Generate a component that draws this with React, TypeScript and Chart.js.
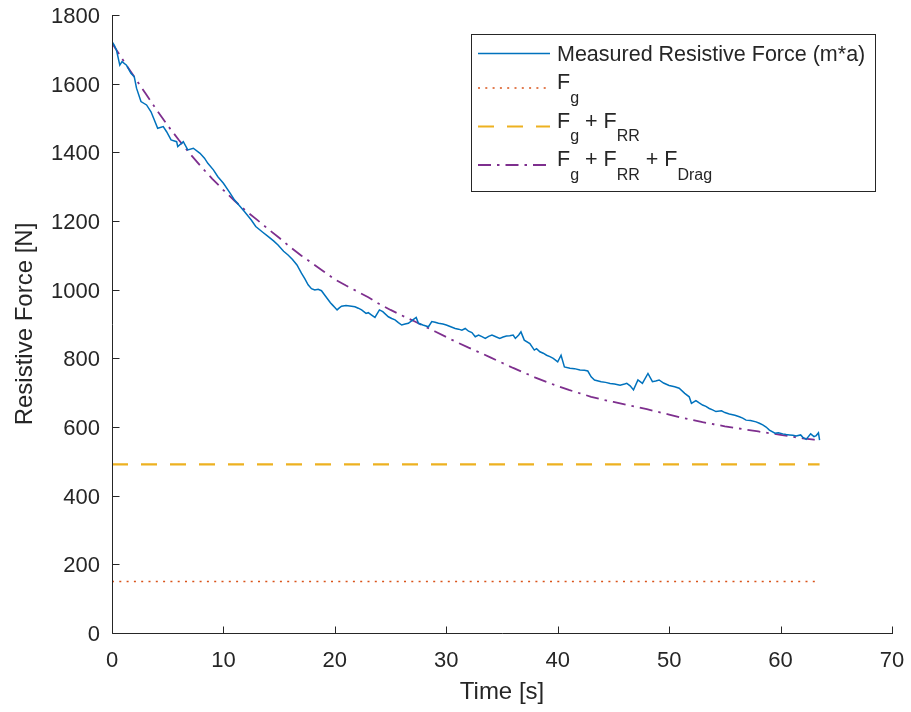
import React, { useEffect, useRef } from 'react';
import { Chart, registerables } from 'chart.js';

Chart.register(...registerables);

// ---------- data ----------
const timeMeasured = [
  0, 0.2, 0.4, 0.7, 0.9, 1.3, 1.7, 2.0, 2.2, 2.6,
  3.1, 3.5, 3.8, 4.1, 4.6, 4.9, 5.3, 5.8, 5.9, 6.4,
  6.8, 7.3, 7.9, 8.3, 8.6, 9.1, 9.5, 10.0, 10.6, 11.0,
  11.5, 11.9, 12.5, 12.9, 13.5, 14.0, 14.5, 14.9, 15.4, 15.8,
  16.2, 16.6, 17.0, 17.3, 17.6, 17.9, 18.2, 18.5, 18.8, 19.0,
  19.3, 19.6, 19.8, 20.0, 20.2, 20.4, 20.6, 21.0, 21.5, 21.8,
  22.1, 22.4, 22.8, 23.0, 23.3, 23.6, 23.8, 24.0, 24.3, 24.8,
  25.1, 25.4, 25.7, 26.0, 26.3, 26.6, 27.0, 27.3, 27.5, 27.9,
  28.4, 28.7, 29.0, 29.3, 29.7, 30.0, 30.4, 30.8, 31.1, 31.4,
  31.7, 32.0, 32.3, 32.6, 32.9, 33.2, 33.5, 33.8, 34.1, 34.5,
  34.8, 35.1, 35.4, 35.7, 36.0, 36.2, 36.5, 36.7, 37.0, 37.5,
  37.9, 38.1, 38.4, 38.7, 39.0, 39.3, 39.6, 40.0, 40.3, 40.6,
  41.1, 41.5, 42.0, 42.4, 42.7, 43.0, 43.3, 43.9, 44.3, 44.7,
  45.1, 45.6, 46.0, 46.2, 46.5, 46.8, 47.2, 47.6, 48.1, 48.5,
  48.8, 49.1, 49.5, 50.0, 50.5, 50.9, 51.4, 51.8, 52.0, 52.4,
  52.7, 53.0, 53.3, 53.6, 53.9, 54.2, 54.7, 55.0, 55.4, 55.9,
  56.3, 56.6, 56.9, 57.3, 57.8, 58.1, 58.4, 58.7, 59.0, 59.5,
  59.8, 60.2, 60.5, 60.8, 61.1, 61.4, 61.8, 62.0, 62.3, 62.7,
  63.0, 63.2, 63.4, 63.5,
];
const forceMeasured = [
  1722, 1712, 1698, 1654, 1664, 1654, 1630, 1620, 1587, 1548,
  1538, 1518, 1494, 1470, 1475, 1460, 1436, 1431, 1417, 1431,
  1407, 1412, 1397, 1383, 1368, 1349, 1329, 1310, 1281, 1261,
  1242, 1227, 1203, 1184, 1168, 1155, 1142, 1130, 1112, 1101,
  1088, 1072, 1048, 1032, 1014, 1003, 999, 1001, 997, 988,
  975, 962, 955, 948, 941, 947, 952, 954, 952, 950,
  946, 941, 931, 933, 926, 919, 930, 941, 936, 921,
  916, 912, 904, 897, 900, 902, 912, 919, 902, 897,
  892, 907, 905, 902, 900, 897, 892, 887, 885, 882,
  887, 879, 875, 863, 868, 863, 858, 864, 868, 862,
  858, 862, 865, 866, 868, 858, 868, 877, 853, 843,
  824, 828, 819, 815, 809, 805, 800, 790, 809, 775,
  771, 770, 766, 765, 763, 746, 737, 732, 730, 727,
  725, 722, 725, 727, 720, 708, 737, 727, 756, 732,
  734, 737, 728, 721, 717, 713, 698, 688, 669, 677,
  670, 664, 660, 654, 650, 645, 647, 642, 638, 634,
  630, 626, 620, 619, 615, 611, 606, 600, 591, 582,
  583, 580, 578, 577, 576, 574, 577, 570, 564, 580,
  572, 575, 583, 562,
];

const timeModel = [
  0, 1, 2, 3, 4, 5, 6, 7, 8, 9, 10, 11, 12, 13, 14, 15, 16, 17, 18, 19, 20, 21, 22, 23, 24, 25, 26, 27, 28, 29, 30, 31,
  32, 33, 34, 35, 36, 37, 38, 39, 40, 41, 42, 43, 44, 45, 46, 47, 48, 49, 50, 51, 52, 53, 54, 55, 56, 57, 58, 59, 60, 61,
  62, 63, 63.5,
];
const forceModel = [
  1718, 1668, 1620, 1572, 1524, 1478, 1436, 1396, 1358, 1323,
  1290, 1259, 1230, 1204, 1177, 1151, 1124, 1099, 1076, 1053,
  1030, 1012, 995, 978, 958, 941, 925, 910, 894, 878,
  862, 846, 831, 817, 802, 787, 772, 758, 744, 731,
  719, 708, 698, 688, 680, 673, 666, 659, 652, 644,
  636, 628, 621, 614, 608, 602, 597, 592, 587, 582,
  577, 572, 567, 563, 560,
];

const timeConstant = [0, 63.5];
const forceGravity = [150, 150];
const forceGravityRR = [491, 491];

const seriesLabels = [
  'Measured Resistive Force (m*a)',
  'F_{g}',
  'F_{g} + F_{RR}',
  'F_{g} + F_{RR} + F_{Drag}',
];
const seriesColors = ['#0072BD', '#D95319', '#EDB120', '#7E2F8E'];
const seriesDash: number[][] = [[], [2, 5.3], [16, 13], [13, 6, 2.5, 6]];
const seriesWidths = [1.5, 1.6, 2.2, 1.8];

const xTickValues = [0, 10, 20, 30, 40, 50, 60, 70];
const yTickValues = [0, 200, 400, 600, 800, 1000, 1200, 1400, 1600, 1800];

const xTitle = 'Time [s]';
const yTitle = 'Resistive Force [N]';

// ---------- helpers ----------
const AXIS = '#262626';
const FONT = '"Liberation Sans", Arial, Helvetica, sans-serif';

const toPoints = (xs: number[], ys: number[]) => xs.map((x, i) => ({ x, y: ys[i] }));

function parseTex(label: string): { text: string; sub: boolean }[] {
  const parts: { text: string; sub: boolean }[] = [];
  const re = /_\{([^}]*)\}/g;
  let last = 0;
  let m: RegExpExecArray | null;
  while ((m = re.exec(label)) !== null) {
    if (m.index > last) parts.push({ text: label.slice(last, m.index), sub: false });
    parts.push({ text: m[1], sub: true });
    last = m.index + m[0].length;
  }
  if (last < label.length) parts.push({ text: label.slice(last), sub: false });
  return parts;
}

const axesAndTicks = {
  id: 'axesAndTicks',
  afterDatasetsDraw(chart: any) {
    const { ctx, chartArea, scales } = chart;
    const x = scales.x;
    const y = scales.y;
    const left = Math.round(chartArea.left) + 0.5;
    const bottom = Math.round(chartArea.bottom) + 0.5;
    ctx.save();
    ctx.strokeStyle = AXIS;
    ctx.lineWidth = 1;
    ctx.setLineDash([]);
    ctx.beginPath();
    // axis lines (box off: only left and bottom)
    ctx.moveTo(left, Math.round(y.getPixelForValue(yTickValues[yTickValues.length - 1])));
    ctx.lineTo(left, bottom);
    ctx.lineTo(Math.round(x.getPixelForValue(xTickValues[xTickValues.length - 1])) + 1, bottom);
    // inward ticks
    xTickValues.forEach((v) => {
      const px = Math.round(x.getPixelForValue(v)) + 0.5;
      ctx.moveTo(px, bottom);
      ctx.lineTo(px, bottom - 7);
    });
    yTickValues.forEach((v) => {
      const py = Math.round(y.getPixelForValue(v)) + 0.5;
      ctx.moveTo(left, py);
      ctx.lineTo(left + 7, py);
    });
    ctx.stroke();
    ctx.restore();
  },
};

const texLegend = {
  id: 'texLegend',
  afterDraw(chart: any) {
    const { ctx, chartArea } = chart;
    const right = chartArea.right - 17;
    const top = chartArea.top + 19;
    const width = 404;
    const left = right - width;
    const mainSize = 21.5;
    const subSize = 16;
    let rowY = top + 8;
    const rows = seriesLabels.map((lab) => {
      const parts = parseTex(lab);
      const hasSub = parts.some((p) => p.sub);
      const h = hasSub ? 38.5 : 28;
      const baseline = rowY + 19;
      rowY += h;
      return { parts, hasSub, baseline };
    });
    const bottom = rowY + 5.5;

    ctx.save();
    ctx.fillStyle = '#ffffff';
    ctx.fillRect(left, top, width, bottom - top);
    ctx.strokeStyle = AXIS;
    ctx.lineWidth = 1;
    ctx.setLineDash([]);
    ctx.strokeRect(Math.round(left) + 0.5, Math.round(top) + 0.5, width, Math.round(bottom - top));

    rows.forEach((row, i) => {
      const ly = row.hasSub ? row.baseline - 1 : row.baseline - 7.5;
      ctx.beginPath();
      ctx.strokeStyle = seriesColors[i];
      ctx.lineWidth = seriesWidths[i];
      ctx.setLineDash(seriesDash[i]);
      ctx.moveTo(left + 7, ly);
      ctx.lineTo(left + 79, ly);
      ctx.stroke();
      ctx.setLineDash([]);

      let tx = left + 86;
      ctx.fillStyle = AXIS;
      ctx.textBaseline = 'alphabetic';
      ctx.textAlign = 'left';
      row.parts.forEach((p) => {
        ctx.font = `${p.sub ? subSize : mainSize}px ${FONT}`;
        const yy = p.sub ? row.baseline + 13.5 : row.baseline;
        ctx.fillText(p.text, tx, yy);
        tx += ctx.measureText(p.text).width;
      });
    });
    ctx.restore();
  },
};

export default function App() {
  const canvasRef = useRef<HTMLCanvasElement | null>(null);

  useEffect(() => {
    document.body.style.margin = '0';
    const canvas = canvasRef.current;
    if (!canvas) return;

    const datasets = [
      { data: toPoints(timeMeasured, forceMeasured) },
      { data: toPoints(timeConstant, forceGravity) },
      { data: toPoints(timeConstant, forceGravityRR) },
      { data: toPoints(timeModel, forceModel) },
    ].map((d, i) => ({
      label: seriesLabels[i],
      data: d.data,
      borderColor: seriesColors[i],
      backgroundColor: seriesColors[i],
      borderWidth: seriesWidths[i],
      borderDash: seriesDash[i],
      pointRadius: 0,
      tension: 0,
      fill: false,
    }));

    const chart = new Chart(canvas, {
      type: 'line',
      data: { datasets },
      options: {
        animation: false,
        responsive: false,
        devicePixelRatio: 1,
        layout: { padding: { top: 15, right: 19, left: 0, bottom: 0 } },
        plugins: {
          legend: { display: false },
          tooltip: { enabled: false },
        },
        scales: {
          x: {
            type: 'linear',
            min: 0,
            max: 70,
            afterFit: (s: any) => {
              s.height = 79;
              s.paddingLeft = 0;
              s.paddingRight = 0;
            },
            afterBuildTicks: (s: any) => {
              s.ticks = xTickValues.map((v) => ({ value: v }));
            },
            grid: { display: false, drawTicks: false },
            border: { display: false },
            ticks: {
              color: AXIS,
              padding: 15,
              font: { family: FONT, size: 22 },
              maxRotation: 0,
              callback: (v: any) => String(v),
            },
            title: {
              display: true,
              text: xTitle,
              color: AXIS,
              font: { family: FONT, size: 24 },
              padding: { top: 0, bottom: 5 },
            },
          },
          y: {
            type: 'linear',
            min: 0,
            max: 1800,
            afterFit: (s: any) => {
              s.width = 112;
              s.paddingTop = 0;
              s.paddingBottom = 0;
            },
            afterBuildTicks: (s: any) => {
              s.ticks = yTickValues.map((v) => ({ value: v }));
            },
            grid: { display: false, drawTicks: false },
            border: { display: false },
            ticks: {
              color: AXIS,
              padding: 12,
              labelOffset: 2,
              font: { family: FONT, size: 22 },
              callback: (v: any) => String(v),
            },
            title: {
              display: true,
              text: yTitle,
              color: AXIS,
              font: { family: FONT, size: 24 },
              padding: { top: 11, bottom: 0 },
            },
          },
        },
      },
      plugins: [axesAndTicks, texLegend],
    });

    return () => {
      chart.destroy();
    };
  }, []);

  return (
    <div style={{ width: 911, height: 712, position: 'relative', background: '#ffffff' }}>
      <canvas ref={canvasRef} width={911} height={712} style={{ display: 'block', width: 911, height: 712 }} />
    </div>
  );
}
